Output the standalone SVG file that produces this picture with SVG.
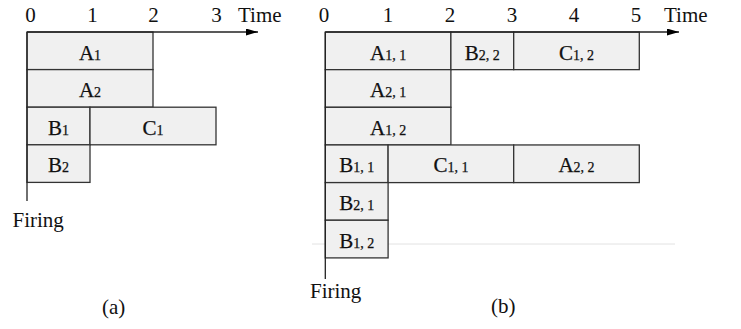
<svg xmlns="http://www.w3.org/2000/svg" width="741" height="329" viewBox="0 0 741 329" font-family="'Liberation Serif', 'DejaVu Serif', serif">
  <defs>
    <marker id="arrow" viewBox="0 0 12 7" refX="12" refY="3.5" markerWidth="12" markerHeight="7" markerUnits="userSpaceOnUse" orient="auto">
      <path d="M0,0 L12,3.5 L0,7 Z" fill="#000"/>
    </marker>
  </defs>
  <style>
    .box { fill: #f0f0f0; stroke: #333; stroke-width: 1.3; }
    .axis { fill: none; stroke: #222; stroke-width: 1.3; }
    text { font-family: 'Liberation Serif', 'DejaVu Serif', serif; }
    .tick { font-size: 21px; fill: #111; text-anchor: middle; }
    .cap { font-size: 21px; fill: #111; }
    .lbl { font-size: 21px; fill: #111; text-anchor: middle; stroke: #111; stroke-width: 0.25; }
    .sub { font-size: 14px; }
    .guide { stroke: #e2e2e2; stroke-width: 1; }
  </style>

  <rect width="741" height="329" fill="#fff"/>

  <!-- faint horizontal rule across panel (b) -->
  <line class="guide" x1="312" y1="244" x2="675" y2="244"/>

  <!-- Panel (a): time axis labels -->
  <g id="axis-labels-a">
    <text class="tick" x="30.5" y="22">0</text>
    <text class="tick" x="92.5" y="22">1</text>
    <text class="tick" x="153.5" y="22">2</text>
    <text class="tick" x="216.5" y="22">3</text>
    <text class="cap" x="238" y="22">Time</text>
    <text class="cap" x="12.5" y="227">Firing</text>
    <text class="cap" x="102" y="314">(a)</text>
  </g>

  <!-- Panel (a): tasks -->
  <g id="a-A1"><rect class="box" x="27" y="32" width="126" height="37.6"/><text class="lbl" x="90" y="59.5">A<tspan class="sub">1</tspan></text></g>
  <g id="a-A2"><rect class="box" x="27" y="69.6" width="126" height="37.6"/><text class="lbl" x="90" y="97.1">A<tspan class="sub">2</tspan></text></g>
  <g id="a-B1"><rect class="box" x="27" y="107.2" width="63" height="37.6"/><text class="lbl" x="58.5" y="134.7">B<tspan class="sub">1</tspan></text></g>
  <g id="a-C1"><rect class="box" x="90" y="107.2" width="126" height="37.6"/><text class="lbl" x="153" y="134.7">C<tspan class="sub">1</tspan></text></g>
  <g id="a-B2"><rect class="box" x="27" y="144.8" width="63" height="37.6"/><text class="lbl" x="58.5" y="172.3">B<tspan class="sub">2</tspan></text></g>

  <!-- Panel (b): time axis labels -->
  <g id="axis-labels-b">
    <text class="tick" x="324" y="22">0</text>
    <text class="tick" x="388" y="22">1</text>
    <text class="tick" x="450" y="22">2</text>
    <text class="tick" x="512" y="22">3</text>
    <text class="tick" x="574" y="22">4</text>
    <text class="tick" x="636" y="22">5</text>
    <text class="cap" x="664" y="22">Time</text>
    <text class="cap" x="310" y="298">Firing</text>
    <text class="cap" x="491" y="313">(b)</text>
  </g>

  <!-- Panel (b): tasks -->
  <g id="b-A11"><rect class="box" x="325.3" y="32" width="125.6" height="37.65"/><text class="lbl" x="388.1" y="59.5">A<tspan class="sub">1, 1</tspan></text></g>
  <g id="b-B22"><rect class="box" x="450.9" y="32" width="62.8" height="37.65"/><text class="lbl" x="482.3" y="59.5">B<tspan class="sub">2, 2</tspan></text></g>
  <g id="b-C12"><rect class="box" x="513.7" y="32" width="125.6" height="37.65"/><text class="lbl" x="576.5" y="59.5">C<tspan class="sub">1, 2</tspan></text></g>
  <g id="b-A21"><rect class="box" x="325.3" y="69.65" width="125.6" height="37.65"/><text class="lbl" x="388.1" y="97.1">A<tspan class="sub">2, 1</tspan></text></g>
  <g id="b-A12"><rect class="box" x="325.3" y="107.3" width="125.6" height="37.65"/><text class="lbl" x="388.1" y="134.8">A<tspan class="sub">1, 2</tspan></text></g>
  <g id="b-B11"><rect class="box" x="325.3" y="144.95" width="62.8" height="37.65"/><text class="lbl" x="356.7" y="172.4">B<tspan class="sub">1, 1</tspan></text></g>
  <g id="b-C11"><rect class="box" x="388.1" y="144.95" width="125.6" height="37.65"/><text class="lbl" x="450.9" y="172.4">C<tspan class="sub">1, 1</tspan></text></g>
  <g id="b-A22"><rect class="box" x="513.7" y="144.95" width="125.6" height="37.65"/><text class="lbl" x="576.5" y="172.4">A<tspan class="sub">2, 2</tspan></text></g>
  <g id="b-B21"><rect class="box" x="325.3" y="182.6" width="62.8" height="37.65"/><text class="lbl" x="356.7" y="210.1">B<tspan class="sub">2, 1</tspan></text></g>
  <g id="b-B12"><rect class="box" x="325.3" y="220.25" width="62.8" height="37.65"/><text class="lbl" x="356.7" y="247.7">B<tspan class="sub">1, 2</tspan></text></g>

  <!-- Axes: time arrows and firing lines -->
  <g id="connectors">
    <line class="axis" x1="27" y1="32" x2="258" y2="32" marker-end="url(#arrow)"/>
    <line class="axis" x1="27" y1="32" x2="27" y2="201"/>
    <line class="axis" x1="325.3" y1="32" x2="679" y2="32" marker-end="url(#arrow)"/>
    <line class="axis" x1="325.3" y1="32" x2="325.3" y2="279"/>
  </g>
</svg>
